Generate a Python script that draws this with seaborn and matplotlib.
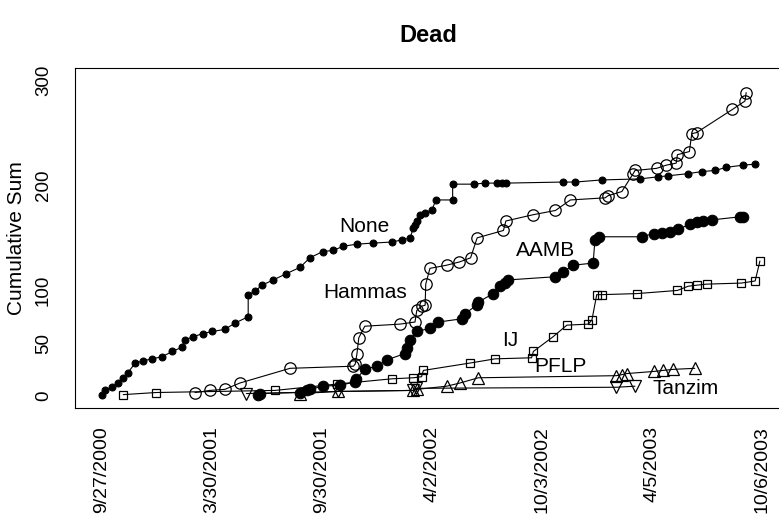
import matplotlib
matplotlib.use("Agg")
import matplotlib.pyplot as plt
import seaborn as sns
import pandas as pd

# days since 9/27/2000, cumulative dead per group
none_day = [0, 5, 17, 27, 36, 44, 56, 69, 84, 101, 118, 134, 139, 153, 169, 185, 206, 223, 245, 245,
            256, 268, 287, 309, 332, 348, 370, 387, 404, 427, 454, 485, 502, 516, 521, 524, 527, 532,
            541, 552, 559, 587, 587, 622, 641, 661, 669, 676, 771, 792, 836, 900, 931, 948, 981, 1004,
            1026, 1045, 1072, 1092]
none_cum = [1, 5, 8, 12, 17, 22, 31, 33, 35, 37, 42, 46, 53, 56, 59, 61, 63, 69, 75, 96,
            99, 105, 110, 116, 122, 131, 137, 138, 142, 144, 145, 146, 148, 150, 159, 162, 166, 172,
            174, 176, 186, 186, 201, 201, 202, 202, 202, 202, 203, 203, 205, 206, 208, 209, 211, 213,
            214, 217, 219, 220]

hammas_day = [156, 181, 206, 231, 315, 421, 424, 427, 430, 440, 499, 524, 527, 535, 541, 542, 549,
              577, 598, 617, 628, 672, 676, 722, 759, 784, 842, 847, 870, 889, 892, 928, 944, 961,
              963, 983, 987, 995, 1055, 1076, 1078]
hammas_cum = [3, 5, 6, 12, 26, 28, 30, 40, 55, 66, 68, 70, 81, 85, 86, 106, 121,
              124, 127, 131, 150, 157, 166, 172, 176, 186, 188, 190, 194, 211, 214, 216, 219, 221,
              229, 232, 249, 250, 272, 280, 288]

aamb_day = [261, 265, 332, 343, 348, 370, 399, 424, 426, 440, 460, 477, 507, 510, 516, 527, 549, 563,
            602, 608, 627, 630, 655, 666, 675, 680, 758, 772, 789, 822, 825, 831, 903, 923, 937,
            951, 964, 984, 995, 1006, 1020, 1068, 1072]
aamb_cum = [1, 2, 3, 5, 6, 9, 10, 13, 16, 25, 28, 34, 40, 45, 53, 61, 64, 70,
            73, 78, 86, 89, 97, 104, 107, 110, 113, 118, 124, 126, 148, 151, 151, 154, 155,
            156, 158, 163, 165, 166, 167, 170, 170]

ij_day = [36, 91, 290, 393, 485, 521, 535, 538, 616, 658, 719, 722, 755, 778, 814, 820, 828, 836,
          895, 963, 981, 995, 1012, 1070, 1093, 1101]
ij_cum = [1, 3, 5, 11, 16, 17, 18, 24, 31, 35, 36, 42, 56, 67, 68, 72, 96, 96,
          97, 100, 104, 105, 106, 107, 109, 128]

pflp_day = [332, 395, 521, 527, 577, 599, 630, 861, 870, 878, 923, 939, 956, 992]
pflp_cum = [2, 4, 5, 6, 9, 12, 17, 19, 20, 21, 23, 24, 25, 26]

tanzim_day = [242, 395, 521, 526, 861, 892]
tanzim_cum = [2, 4, 5, 7, 8, 9]

tick_days = [0, 184, 368, 552, 736, 920, 1104]
tick_labels = ["9/27/2000", "3/30/2001", "9/30/2001", "4/2/2002", "10/3/2002", "4/5/2003", "10/6/2003"]

sns.set_theme(style="white")
plt.rcParams["font.family"] = ["Liberation Sans", "DejaVu Sans"]
plt.rcParams["text.color"] = "black"
plt.rcParams["xtick.color"] = "black"
plt.rcParams["ytick.color"] = "black"

fig = plt.figure(figsize=(7.79, 5.30), dpi=100)
ax = fig.add_axes([75 / 779, (530 - 408.3) / 530, (790 - 75) / 779, (408.3 - 68.3) / 530])

series = [
    (none_day, none_cum, dict(marker="o", markersize=5.0, mfc="black", mec="black")),
    (hammas_day, hammas_cum, dict(marker="o", markersize=8.2, mfc="none", mec="black", mew=0.9)),
    (aamb_day, aamb_cum, dict(marker="o", markersize=7.6, mfc="black", mec="black")),
    (ij_day, ij_cum, dict(marker="s", markersize=6.3, mfc="none", mec="black", mew=0.9)),
    (pflp_day, pflp_cum, dict(marker="^", markersize=8.0, mfc="none", mec="black", mew=0.9)),
    (tanzim_day, tanzim_cum, dict(marker="v", markersize=8.0, mfc="none", mec="black", mew=0.9)),
]
for d, c, style in series:
    df = pd.DataFrame({"day": d, "cum": c})
    sns.lineplot(data=df, x="day", y="cum", ax=ax, estimator=None, sort=False,
                 color="black", linewidth=0.8, **style)

# group names
labels = ["None", "Hammas", "AAMB", "IJ", "PFLP", "Tanzim"]
label_x = [440, 441, 743, 684, 768, 977]
label_y = [161, 98, 138, 52, 28, 7]
for t, lx, ly in zip(labels, label_x, label_y):
    ax.text(lx, ly, t, ha="center", va="center", fontsize=15, color="black")

ax.set_xlim(-44.7, 1151.3)
ax.set_ylim(-12, 311.1)
ax.set_xticks(tick_days)
ax.set_xticklabels(tick_labels, rotation=90, fontsize=14)
ax.set_yticks([0, 50, 100, 150, 200, 250, 300])
ax.set_yticklabels(["0", "50", "100", "", "200", "", "300"], rotation=90, va="center", fontsize=13.5)
ax.tick_params(axis="x", length=8.6, width=0.75, pad=4, color="black", direction="out")
ax.tick_params(axis="y", length=8.6, width=0.75, pad=8, color="black", direction="out")
ax.set_xlabel("")
ax.set_ylabel("")
for s in ax.spines.values():
    s.set_color("black")
    s.set_linewidth(0.8)

fig.text(17 / 779, 1 - 238 / 530, "Cumulative Sum", rotation=90, ha="center", va="center", fontsize=15)
fig.text(428 / 779, 1 - 36 / 530, "Dead", ha="center", va="center", fontsize=17, fontweight="bold")

fig.savefig("out.png", dpi=100)
